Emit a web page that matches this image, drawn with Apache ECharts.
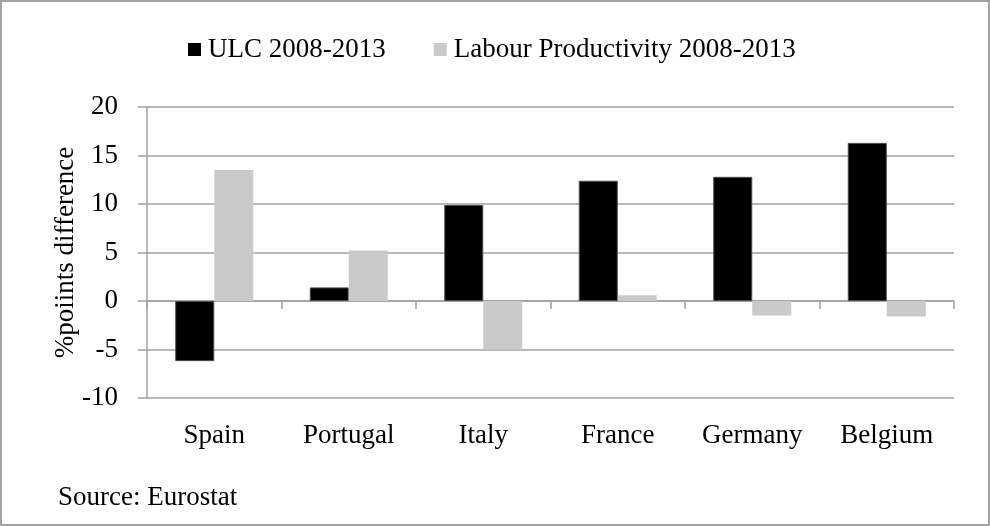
<!DOCTYPE html>
<html>
<head>
<meta charset="utf-8">
<script src="https://cdn.jsdelivr.net/npm/echarts@6/dist/echarts.min.js"></script>
<style>
  html, body { margin: 0; padding: 0; background: #fff; }
  #frame { width: 990px; height: 526px; box-sizing: border-box; border: 2px solid #a3a3a3; position: relative; }
  #chart { position: absolute; left: -2px; top: -2px; width: 990px; height: 526px; }
</style>
</head>
<body>
<div id="frame"><div id="chart"></div></div>
<script>
// Unit labour cost vs labour productivity, change 2008-2013 (% points)
const countries = ['Spain', 'Portugal', 'Italy', 'France', 'Germany', 'Belgium'];
const ulc = [-6.2, 1.4, 9.9, 12.4, 12.8, 16.3];
const productivity = [13.5, 5.2, -5.0, 0.6, -1.5, -1.6];
const yTicks = { min: -10, max: 20, interval: 5 };

const serif = '"Liberation Serif", "DejaVu Serif", serif';
const fontSize = 27;
const gridGray = '#a0a0a0';

const chart = echarts.init(document.getElementById('chart'), null, { renderer: 'canvas' });

chart.setOption({
  animation: false,
  backgroundColor: 'transparent',
  textStyle: { fontFamily: serif },
  legend: {
    top: 36,
    left: 188,
    padding: 0,
    itemWidth: 13,
    itemHeight: 13,
    itemGap: 48,
    icon: 'rect',
    itemStyle: { borderWidth: 0 },
    textStyle: { fontFamily: serif, fontSize: fontSize, color: '#000', padding: [0, 0, 0, 2] },
    data: ['ULC 2008-2013', 'Labour Productivity 2008-2013']
  },
  grid: { left: 147, right: 36, top: 107, bottom: 128, containLabel: false },
  xAxis: [
    {
      type: 'category',
      data: countries,
      position: 'bottom',
      axisLine: { show: false, onZero: false },
      axisTick: { show: false },
      axisLabel: { fontFamily: serif, fontSize: fontSize, color: '#000', margin: 24 }
    },
    {
      type: 'category',
      data: countries,
      position: 'bottom',
      axisLine: { show: true, onZero: true, lineStyle: { color: gridGray, width: 1.5 } },
      axisTick: { show: true, length: 8, interval: 0, lineStyle: { color: gridGray, width: 1.5 } },
      axisLabel: { show: false }
    }
  ],
  yAxis: {
    type: 'value',
    min: yTicks.min,
    max: yTicks.max,
    interval: yTicks.interval,
    name: '%poiints difference',
    nameLocation: 'middle',
    nameGap: 68,
    nameMoveOverlap: false,
    nameRotate: 90,
    nameTextStyle: { fontFamily: serif, fontSize: fontSize, color: '#000' },
    axisLine: { show: true, lineStyle: { color: gridGray, width: 1.5 } },
    axisTick: { show: true, inside: false, length: 9, lineStyle: { color: gridGray, width: 1.5 } },
    axisLabel: { fontFamily: serif, fontSize: fontSize, color: '#000', margin: 29 },
    splitLine: { show: true, lineStyle: { color: gridGray, width: 1.5 } }
  },
  series: [
    {
      name: 'ULC 2008-2013',
      type: 'bar',
      data: ulc,
      barWidth: 39,
      barGap: '0%',
      itemStyle: { color: '#000', borderColor: '#4a4a4a', borderWidth: 1 }
    },
    {
      name: 'Labour Productivity 2008-2013',
      type: 'bar',
      data: productivity,
      barWidth: 39,
      barGap: '0%',
      itemStyle: { color: '#cacaca' }
    }
  ],
  graphic: [
    {
      type: 'text',
      left: 58,
      top: 484,
      style: { text: 'Source: Eurostat', font: fontSize + 'px ' + serif, fill: '#000' }
    }
  ]
});
</script>
</body>
</html>
